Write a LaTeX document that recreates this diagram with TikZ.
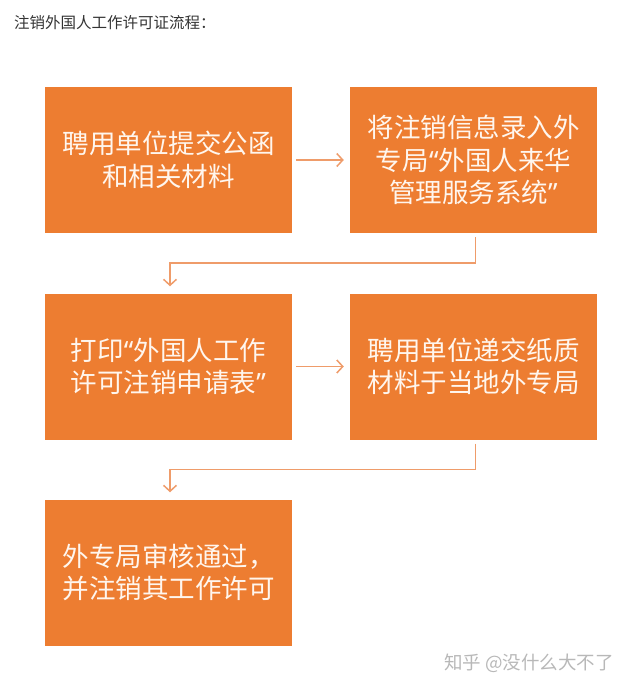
\documentclass[tikz,border=0pt]{standalone}
\usepackage{fontspec}
\setmainfont{Noto Sans CJK SC}
\newfontfamily\latq{Noto Sans}
\usetikzlibrary{arrows.meta}
\definecolor{boxorange}{HTML}{ED7D31}
\definecolor{connorange}{HTML}{EF9C6A}
\definecolor{boxtext}{HTML}{FFF6EE}
\definecolor{titlegray}{HTML}{333333}
\definecolor{markgray}{HTML}{B8B8B8}
\newcommand{\myopenq}{{\latq “}}
\newcommand{\myclosq}{{\latq ”}}
\tikzset{
  stepbox/.style={fill=boxorange, draw=none, minimum width=247pt, minimum height=146pt,
    inner sep=0pt, text=boxtext, align=center, font=\fontsize{26.5}{32.5}\selectfont},
  conn/.style={draw=connorange, line width=1.5pt, -{Straight Barb[length=6pt,width=13pt,line width=1.5pt]}}
}
\begin{document}
\begin{tikzpicture}[x=1pt,y=1pt]
\useasboundingbox (0,0) rectangle (633,-690);
\node[anchor=west, text=titlegray, font=\fontsize{15.5}{18}\selectfont, inner sep=0pt] (title) at (14,-23) {注销外国人工作许可证流程：};
\node[stepbox] (b1) at (168.5,-160) {聘用单位提交公函\\和相关材料};
\node[stepbox] (b2) at (473.5,-160) {将注销信息录入外\\专局\myopenq 外国人来华\\管理服务系统\myclosq};
\node[stepbox] (b3) at (168.5,-366.5) {打印\myopenq 外国人工作\\许可注销申请表\myclosq};
\node[stepbox] (b4) at (473.5,-366.5) {聘用单位递交纸质\\材料于当地外专局};
\node[stepbox] (b5) at (168.5,-572.5) {外专局审核通过，\\并注销其工作许可};
\draw[conn, shorten <=4pt, shorten >=6pt] (b1) -- (b2);
\draw[conn, shorten <=4pt, shorten >=6pt] (b3) -- (b4);
\draw[conn, shorten <=4pt, shorten >=7pt] ([xshift=2pt]b2.south) -- ++(0,-30) -| ([xshift=1.5pt]b3.north);
\draw[conn, shorten <=4pt, shorten >=7pt] ([xshift=2pt]b4.south) -- ++(0,-30) -| ([xshift=1.5pt]b5.north);
\node[anchor=east, text=markgray, font=\fontsize{18.5}{21}\selectfont, inner sep=0pt] (mark) at (614,-663) {知乎 @没什么大不了};
\end{tikzpicture}
\end{document}
